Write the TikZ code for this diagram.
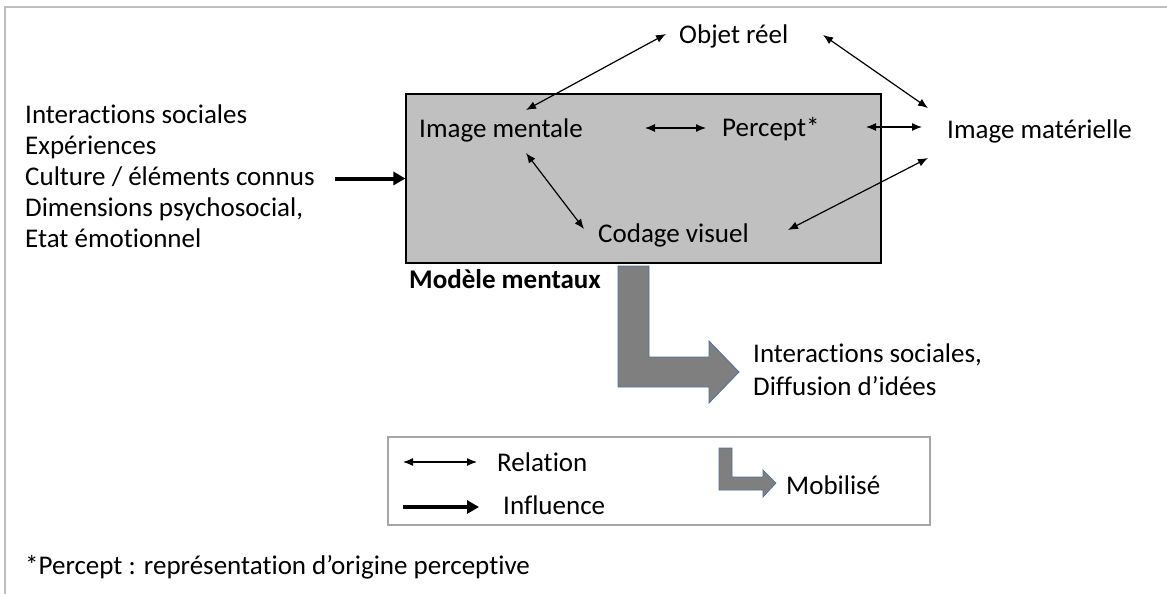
\documentclass[tikz,border=0pt]{standalone}
\usepackage{fontspec}
\setmainfont{Carlito}[Ligatures={NoCommon}]
\usetikzlibrary{arrows.meta}
\definecolor{boxgray}{HTML}{C0C0C0}
\definecolor{bigarrow}{HTML}{7F7F7F}
\definecolor{arrowedge}{HTML}{4F6FA0}
\definecolor{framegray}{HTML}{BFBFBF}
\definecolor{legendgray}{HTML}{A6A6A6}
\tikzset{
  lbl/.style={inner sep=0pt, anchor=base west, text height=19pt, text depth=6pt,
    font=\fontsize{27}{31}\selectfont},
  rel/.style={{Latex[length=10pt,width=8pt]}-{Latex[length=10pt,width=8pt]}, line width=1.2pt},
  infl/.style={-{Triangle[length=12pt,width=13pt]}, line width=4pt},
  mobil/.style={fill=bigarrow, draw=arrowedge, line width=0.8pt, line join=miter},
}
\begin{document}
\begin{tikzpicture}[x=1pt,y=-1pt]
\useasboundingbox (0,0) rectangle (1167,594);
% outer frame
\draw[framegray, line width=2.5pt] (1167,7) -- (5,7) -- (5,594);
% main box
\node[draw=black, fill=boxgray, line width=1.2pt, minimum width=475pt, minimum height=169pt, inner sep=0pt] (mm) at (643.5,178.5) {};
% texts
\node[lbl] (objet) at (679,44) {Objet réel};
\node[lbl] (im) at (419,137) {Image mentale};
\node[lbl] (percept) at (722,136) {Percept*};
\node[lbl] (imat) at (947,138) {Image matérielle};
\node[lbl] (codage) at (598,242) {Codage visuel};
\node[lbl, font=\fontsize{27}{31}\selectfont\bfseries] (modele) at (409,288) {Modèle mentaux};
\node[inner sep=0pt, anchor=west, align=left, font=\fontsize{27}{31}\selectfont] (left) at (25,176)
  {Interactions sociales\\Expériences\\Culture / éléments connus\\Dimensions psychosocial,\\Etat émotionnel};
\node[inner sep=0pt, anchor=west, align=left, font=\fontsize{27}{33}\selectfont] (diff) at (753,370)
  {Interactions sociales,\\Diffusion d’idées};
% relations
\draw[rel] ([shift={(107,-27)}]im.base west) -- ([shift={(-13,-10)}]objet.base west);
\draw[rel] ([shift={(144,-9)}]objet.base west) -- ([shift={(-19,-30)}]imat.base west);
\draw[rel] ([shift={(226,-9)}]im.base west) -- ([shift={(-16,-8)}]percept.base west);
\draw[rel] ([shift={(144,-9)}]percept.base west) -- ([shift={(-25,-11)}]imat.base west);
\draw[rel] ([shift={(107,16)}]im.base west) -- ([shift={(-14,-13)}]codage.base west);
\draw[rel] ([shift={(190,-12)}]codage.base west) -- ([shift={(-19,20)}]imat.base west);
% influence
\draw[infl] ([xshift=310pt]left.west |- mm.west) -- (mm.west);
% big mobilised arrow
\draw[mobil] (618,266) -- (649,266) -- (649,357) -- (709,357) -- (709,341) -- (739,372)
  -- (709,403) -- (709,387) -- (618,387) -- cycle;
% legend
\node[draw=legendgray, line width=1.2pt, minimum width=542pt, minimum height=88pt, inner sep=0pt] (legend) at (659,481) {};
\node[lbl] (lrel) at (497,471) {Relation};
\node[lbl] (linf) at (503,514) {Influence};
\node[lbl] (lmob) at (786,494) {Mobilisé};
\draw[rel] ([xshift=-94pt,yshift=9pt]lrel.base west) -- ([xshift=-20pt,yshift=9pt]lrel.base west);
\draw[infl] ([xshift=-100pt,yshift=7pt]linf.base west) -- ([xshift=-24pt,yshift=7pt]linf.base west);
\draw[mobil, line width=0.7pt] (719,448) -- (732,448) -- (732,477) -- (763,477) -- (763,470) -- (776,483)
  -- (763,497) -- (763,490) -- (719,490) -- cycle;
% footnote
\node[lbl] (foot) at (25,574) {*Percept : représentation d’origine perceptive};
\end{tikzpicture}
\end{document}
